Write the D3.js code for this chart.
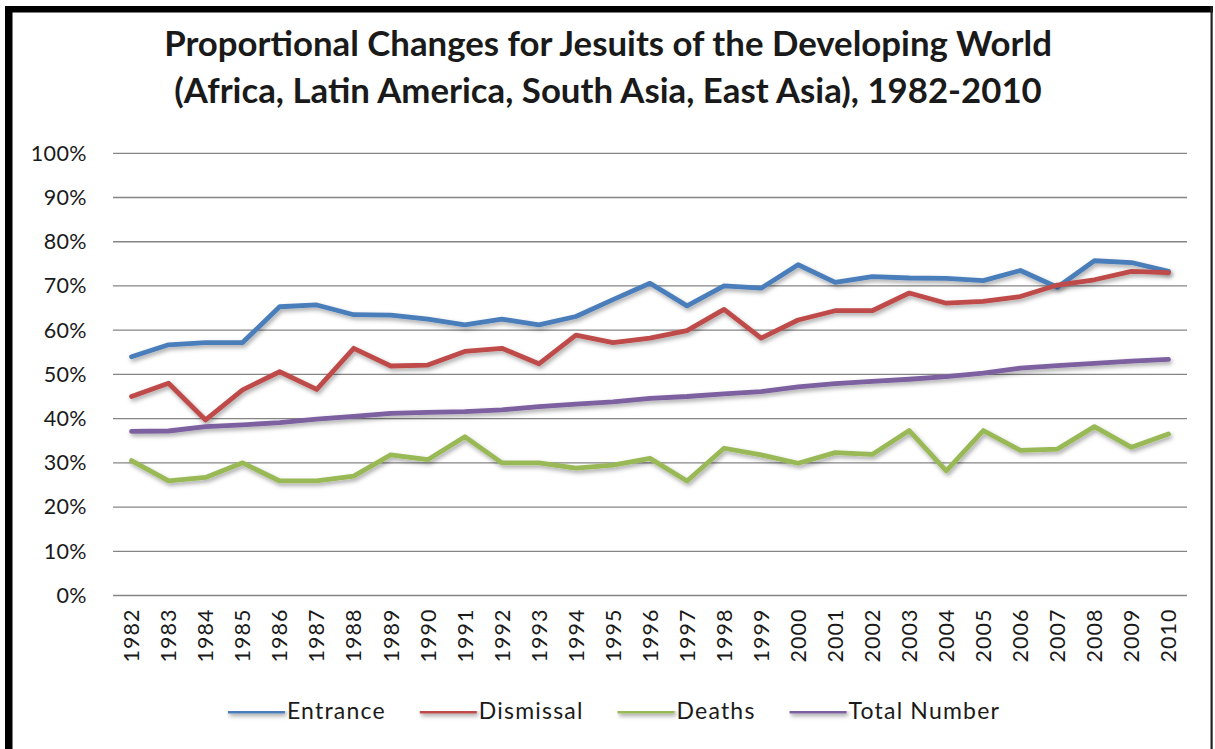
<!DOCTYPE html>
<html>
<head>
<meta charset="utf-8">
<script src="https://cdn.jsdelivr.net/npm/d3@7"></script>
<style>
  html, body { margin: 0; padding: 0; background: #fff; }
  svg { display: block; }
  text { font-family: Lato, "Open Sans", sans-serif; fill: #1a1a1a; }
</style>
</head>
<body>
<svg id="chart" width="1215" height="749"></svg>
<script>
// ---------- data ----------
const years = ["1982","1983","1984","1985","1986","1987","1988","1989","1990","1991",
  "1992","1993","1994","1995","1996","1997","1998","1999","2000","2001",
  "2002","2003","2004","2005","2006","2007","2008","2009","2010"];
const entrance = [54.0,56.7,57.2,57.2,65.3,65.7,63.5,63.4,62.5,61.2,62.5,61.2,63.1,66.9,70.6,65.5,70.0,69.5,74.8,70.8,72.1,71.8,71.7,71.2,73.5,69.7,75.7,75.3,73.3];
const dismissal = [45.0,48.0,39.7,46.5,50.6,46.6,55.9,51.9,52.1,55.2,55.9,52.4,58.9,57.2,58.2,59.9,64.7,58.2,62.3,64.4,64.4,68.4,66.1,66.5,67.6,70.2,71.4,73.3,73.0];
const deaths = [30.5,25.9,26.7,30.0,25.9,25.9,27.0,31.8,30.7,35.9,30.0,30.0,28.8,29.5,31.0,25.9,33.3,31.8,29.9,32.3,31.9,37.3,28.2,37.3,32.8,33.1,38.2,33.5,36.5];
const totalNumber = [37.1,37.2,38.2,38.6,39.1,39.9,40.5,41.2,41.4,41.6,42.0,42.7,43.3,43.8,44.6,45.0,45.6,46.1,47.2,47.9,48.4,48.9,49.5,50.3,51.4,52.0,52.5,53.0,53.4];
const yTicks = [0,10,20,30,40,50,60,70,80,90,100];
const seriesNames = ["Entrance","Dismissal","Deaths","Total Number"];
const seriesColors = ["#4A7EBB","#BE4B48","#98B954","#7D60A0"];
const titleLines = ["Proportional Changes for Jesuits of the Developing World",
                    "(Africa, Latin America, South Asia, East Asia), 1982-2010"];

const series = [entrance, dismissal, deaths, totalNumber].map((vals, i) => ({
  name: seriesNames[i], color: seriesColors[i],
  points: years.map((y, j) => ({ year: y, value: vals[j] }))
}));

// ---------- layout ----------
const svg = d3.select("#chart");
const W = 1215, H = 749;
const plot = { left: 113, right: 1187, top: 153.3, bottom: 595.5 };

const x = d3.scaleBand().domain(years).range([plot.left, plot.right]).padding(0);
const y = d3.scaleLinear().domain([0, 100]).range([plot.bottom, plot.top]);

// background + frame
svg.append("rect").attr("x", 0).attr("y", 0).attr("width", W).attr("height", H).attr("fill", "#fff");
svg.append("rect").attr("x", 5).attr("y", 6).attr("width", 1208).attr("height", 6.5).attr("fill", "#000");
svg.append("rect").attr("x", 5).attr("y", 6).attr("width", 7.5).attr("height", H).attr("fill", "#000");
svg.append("rect").attr("x", 1210.5).attr("y", 6).attr("width", 2.2).attr("height", H).attr("fill", "#222");

// defs: shadow
const defs = svg.append("defs");
const f = defs.append("filter").attr("id", "shadow")
  .attr("filterUnits", "userSpaceOnUse")
  .attr("x", 0).attr("y", 0).attr("width", W).attr("height", H);
f.append("feDropShadow").attr("dx", 1.5).attr("dy", 2.5).attr("stdDeviation", 2.2)
  .attr("flood-color", "#000").attr("flood-opacity", 0.35);

// title
const titleG = svg.append("g");
const titleBase = [56, 103];
titleLines.forEach((t, i) => {
  titleG.append("text").attr("x", 608).attr("y", titleBase[i])
    .attr("text-anchor", "middle").attr("font-weight", "bold")
    .attr("font-size", 30).text(t);
});
{
  const first = titleG.select("text").node();
  const w = first.getComputedTextLength();
  const fs = 30 * 888 / w;
  titleG.selectAll("text").attr("font-size", fs);
}

// gridlines
svg.append("g").selectAll("line").data(yTicks).join("line")
  .attr("x1", plot.left).attr("x2", plot.right)
  .attr("y1", d => y(d)).attr("y2", d => y(d))
  .attr("stroke", "#858585").attr("stroke-width", 1.3);

// y axis labels
const yAxis = d3.axisLeft(y).tickValues(yTicks).tickFormat(d => d + "%").tickSize(0).tickPadding(0);
const yg = svg.append("g").attr("transform", `translate(87,0)`).call(yAxis);
yg.select(".domain").remove();
yg.selectAll("text").attr("font-size", 21.5).attr("fill", "#1a1a1a")
  .style("font-family", "Lato, 'Open Sans', sans-serif")
  .style("letter-spacing", "0.4px");

// x axis labels (rotated)
const xAxis = d3.axisBottom(x).tickSize(0).tickPadding(0);
const xg = svg.append("g").attr("transform", `translate(0,${plot.bottom})`).call(xAxis);
xg.select(".domain").remove();
xg.selectAll("text")
  .attr("font-size", 21.5).attr("fill", "#1a1a1a")
  .style("font-family", "Lato, 'Open Sans', sans-serif")
  .style("letter-spacing", "1px")
  .attr("text-anchor", "end")
  .attr("transform", "rotate(-90)")
  .attr("x", -13).attr("y", 0).attr("dy", "0.36em");

// lines
const line = d3.line().x(d => x(d.year) + x.bandwidth() / 2).y(d => y(d.value));
svg.append("g").selectAll("path").data(series).join("path")
  .attr("d", d => line(d.points))
  .attr("fill", "none")
  .attr("stroke", d => d.color)
  .attr("stroke-width", 4.8)
  .attr("stroke-linejoin", "round")
  .attr("stroke-linecap", "round")
  .attr("filter", "url(#shadow)");

// legend
const lg = svg.append("g");
const legY = 711;
const items = lg.selectAll("g").data(series).join("g");
items.append("line").attr("x1", 0).attr("x2", 57).attr("y1", 0).attr("y2", 0)
  .attr("stroke", d => d.color).attr("stroke-width", 5.2).attr("filter", "url(#shadow)");
items.append("text").attr("x", 59).attr("y", 0).attr("dy", "0.36em")
  .attr("font-size", 23).style("letter-spacing", "1.2px").text(d => d.name);
let cx = 0;
const positions = [];
const gap = 34;
items.each(function() {
  const tw = d3.select(this).select("text").node().getComputedTextLength();
  positions.push(cx);
  cx += 59 + tw + gap;
});
const totalW = cx - gap;
const startX = 614 - totalW / 2;
items.attr("transform", (d, i) => `translate(${startX + positions[i]},${legY})`);
</script>
</body>
</html>
